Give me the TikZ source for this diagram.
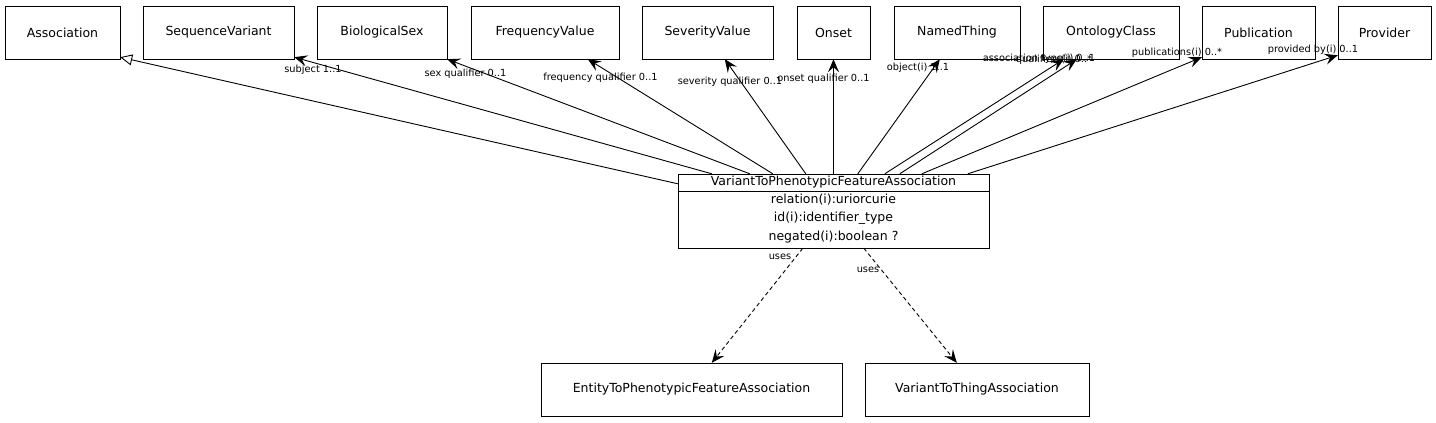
\documentclass[tikz,border=0pt]{standalone}
\usepackage{fontspec}
\setmainfont{DejaVu Sans}
\usetikzlibrary{arrows.meta,calc}
\begin{document}
\begin{tikzpicture}[x=1pt,y=-1pt,
  cls/.style={draw,rectangle,inner sep=0pt,minimum height=53pt,font=\fontsize{12.5}{14}\selectfont},
  lbl/.style={inner sep=0pt,font=\fontsize{9.8}{11}\selectfont},
  row/.style={inner sep=0pt,font=\fontsize{12.5}{14}\selectfont},
  ref/.style={line width=0.9pt,-{Stealth[length=13pt,width=11pt,inset=5pt]}},
  isa/.style={line width=0.9pt,-{Triangle[open,length=12pt,width=11pt]}},
  usesline/.style={line width=0.9pt,dash pattern=on 4pt off 3pt,-{Stealth[length=13pt,width=11pt,inset=5pt]}}]
\useasboundingbox (0,0) rectangle (1436,423);
\node[cls,minimum width=115pt] (as) at (62.5,32.5) {Association};
\node[cls,minimum width=151pt] (sv) at (218.5,32.5) {SequenceVariant};
\node[cls,minimum width=130pt] (bs) at (382,32.5) {BiologicalSex};
\node[cls,minimum width=148pt] (fv) at (545,32.5) {FrequencyValue};
\node[cls,minimum width=131pt] (sev) at (707.5,32.5) {SeverityValue};
\node[cls,minimum width=73pt] (on) at (833.5,32.5) {Onset};
\node[cls,minimum width=126pt] (nt) at (957,32.5) {NamedThing};
\node[cls,minimum width=136pt] (oc) at (1111,32.5) {OntologyClass};
\node[cls,minimum width=113pt] (pub) at (1258.5,32.5) {Publication};
\node[cls,minimum width=93pt] (pr) at (1384.5,32.5) {Provider};
\node[cls,minimum width=311pt,minimum height=74pt] (main) at (833.5,211) {};
\draw[line width=0.9pt] ($(main.north west)+(0,18)$) -- ($(main.north east)+(0,18)$);
\node[row] (h) at (833.5,182) {VariantToPhenotypicFeatureAssociation};
\node[row] (r1) at (833.5,200) {relation(i):uriorcurie};
\node[row] (r2) at (833.5,218) {id(i):identifier\_type};
\node[row] (r3) at (833.5,237) {negated(i):boolean ?};
\node[cls,minimum width=301pt] (ent) at (691.5,389.5) {EntityToPhenotypicFeatureAssociation};
\node[cls,minimum width=224pt] (vtt) at (977,389.5) {VariantToThingAssociation};
% edges
\draw[isa] ($(main.north west)+(0,10)$) -- ($(as.south east)+(0,-2)$);
\draw[ref] ($(main.north west)+(34,0)$) -- ($(sv.south east)+(0,-2)$);
\draw[ref] ($(main.north west)+(72,0)$) -- (bs.south east);
\draw[ref] ($(main.north west)+(95,0)$) -- ($(fv.south west)+(117,0)$);
\draw[ref] ($(main.north west)+(128,0)$) -- ($(sev.south west)+(83,0)$);
\draw[ref] (main.north) -- (on.south);
\draw[ref] ($(main.north west)+(180,0)$) -- ($(nt.south west)+(46,0)$);
\draw[ref] ($(main.north west)+(207,0)$) -- ($(oc.south west)+(21,0)$);
\draw[ref] ($(main.north west)+(222,0)$) -- ($(oc.south west)+(34,0)$);
\draw[ref] ($(main.north west)+(244,0)$) -- ($(pub.south west)+(0,-2)$);
\draw[ref] ($(main.north west)+(290,0)$) -- ($(pr.south west)+(0,-4)$);
\draw[usesline] ($(main.south west)+(125,0)$) -- ($(ent.north west)+(171,0)$);
\draw[usesline] ($(main.south west)+(186,0)$) -- ($(vtt.north west)+(92,0)$);
% labels
\node[lbl] (l1) at (313,70) {subject 1..1};
\node[lbl] (l2) at (465.5,74) {sex qualifier 0..1};
\node[lbl] (l3) at (600.5,78) {frequency qualifier 0..1};
\node[lbl] (l4) at (730,82) {severity qualifier 0..1};
\node[lbl] (l5) at (823.5,79) {onset qualifier 0..1};
\node[lbl] (l6) at (918,68) {object(i) 1..1};
\node[lbl] (l7) at (1039,59) {association type(i) 0..1};
\node[lbl] (l8) at (1054,60) {qualifiers(i) 0..*};
\node[lbl] (l9) at (1177,53) {publications(i) 0..*};
\node[lbl] (l10) at (1313,50) {provided by(i) 0..1};
\node[lbl] (u1) at (780,257) {uses};
\node[lbl] (u2) at (868,270) {uses};
\end{tikzpicture}
\end{document}
